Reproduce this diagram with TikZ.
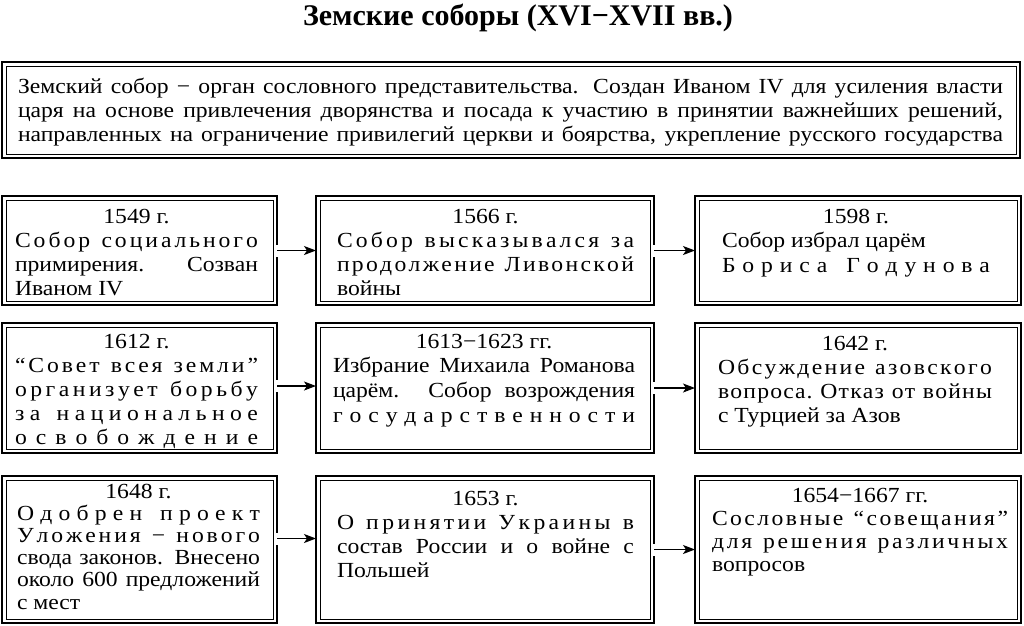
\documentclass[tikz,border=0pt]{standalone}
\usepackage{fontspec}
\setmainfont{Liberation Serif}[FakeStretch=1.1]
\newfontfamily\titlefont{Liberation Serif}
\usetikzlibrary{arrows.meta}
\hbadness=10000 \hfuzz=200pt \vbadness=10000 \vfuzz=200pt
\makeatletter
\def\sline#1{\sl@line#1 \@nil}
\def\sl@line#1 #2\@nil{\sl@word#1\relax\ifx\relax#2\relax\else\hskip 0.25em plus 2fil\relax\sl@line#2\@nil\fi}
\def\sl@word#1{\ifx#1\relax\else#1\expandafter\sl@wordB\fi}
\def\sl@wordB#1{\ifx#1\relax\else\hskip0pt plus1fil\relax#1\expandafter\sl@wordB\fi}
\makeatother
\newcommand\lnS[1]{\hbox to\hsize{\sline{#1}}}
\newcommand\lnJ[1]{\hbox to\hsize{#1}}
\newcommand\lnN[1]{\hbox{#1}}
\newcommand\lnC[1]{\hbox to\hsize{\hss#1\hss}}
\newcommand\tb[3]{\vtop{\hsize=#1pt\baselineskip=#2pt\lineskiplimit=-100pt\lineskip=0pt\parindent=0pt #3}}
\tikzset{
  dbox/.style={draw, line width=2.4pt, inner sep=0pt, outer sep=0pt, anchor=north west,
    path picture={\draw[line width=0.9pt] ([shift={(4pt,4pt)}]path picture bounding box.south west) rectangle ([shift={(-4pt,-4pt)}]path picture bounding box.north east);}},
  txt/.style={anchor=base west, inner sep=0pt, outer sep=0pt, font=\fontsize{21.5}{24}\selectfont},
  conn/.style={line width=1.1pt, -{Stealth[length=12pt,width=9pt,inset=3pt]}},
  gapfill/.style={fill=white},
}
\begin{document}
\begin{tikzpicture}[x=1pt,y=-1pt]
\useasboundingbox (0,0) rectangle (1024,625);
\node[font=\titlefont\bfseries\fontsize{30}{32}\selectfont, anchor=base, inner sep=0pt] (title) at (518,25) {Земские соборы (XVI−XVII вв.)};

% boxes
\node[dbox, minimum width=1018pt, minimum height=96pt] (top) at (2,62) {};
\node[dbox, minimum width=275pt, minimum height=109pt] (L1) at (2,196) {};
\node[dbox, minimum width=338pt, minimum height=109pt] (M1) at (316,196) {};
\node[dbox, minimum width=326pt, minimum height=109pt] (R1) at (695,196) {};
\node[dbox, minimum width=275pt, minimum height=130pt] (L2) at (2,323) {};
\node[dbox, minimum width=338pt, minimum height=130pt] (M2) at (316,323) {};
\node[dbox, minimum width=326pt, minimum height=130pt] (R2) at (695,323) {};
\node[dbox, minimum width=275pt, minimum height=147pt] (L3) at (2,476) {};
\node[dbox, minimum width=338pt, minimum height=147pt] (M3) at (316,476) {};
\node[dbox, minimum width=326pt, minimum height=147pt] (R3) at (695,476) {};

% texts
\node[txt] (tTop) at (18,93) {\tb{985}{24}{%
\lnJ{Земский собор − орган сословного представительства. Создан Иваном IV для усиления власти}
\lnJ{царя на основе привлечения дворянства и посада к участию в принятии важнейших решений,}
\lnJ{направленных на ограничение привилегий церкви и боярства, укрепление русского государства}}};

\node[txt] (tL1) at (15,223) {\tb{243}{24}{%
\lnC{1549 г.}
\lnS{Собор социального}
\lnJ{примирения. Созван}
\lnN{Иваном IV}}};
\node[txt] (tM1) at (337,223) {\tb{297}{24.3}{%
\lnC{1566 г.}
\lnS{Собор высказывался за}
\lnS{продолжение Ливонской}
\lnN{войны}}};
\node[txt] (tR1) at (722,223) {\tb{268}{24.5}{%
\lnC{1598 г.}
\lnN{Собор избрал царём}
\lnS{Бориса Годунова}}};

\node[txt] (tL2) at (15,348) {\tb{243}{24}{%
\lnC{1612 г.}
\lnS{“Совет всея земли”}
\lnS{организует борьбу}
\lnS{за национальное}
\lnS{освобождение}}};
\node[txt] (tM2) at (333,348) {\tb{302}{24.7}{%
\lnC{1613−1623 гг.}
\lnJ{Избрание Михаила Романова}
\lnJ{царём. Собор возрождения}
\lnS{государственности}}};
\node[txt] (tR2) at (718,350) {\tb{274}{24}{%
\lnC{1642 г.}
\lnS{Обсуждение азовского}
\lnS{вопроса. Отказ от войны}
\lnN{с Турцией за Азов}}};

\node[txt] (tL3) at (17,498) {\tb{243}{22.2}{%
\lnC{1648 г.}
\lnS{Одобрен проект}
\lnS{Уложения − нового}
\lnJ{свода законов. Внесено}
\lnJ{около 600 предложений}
\lnN{с мест}}};
\node[txt] (tM3) at (337,505) {\tb{297}{24}{%
\lnC{1653 г.}
\lnS{О принятии Украины в}
\lnJ{состав России и о войне с}
\lnN{Польшей}}};
\node[txt] (tR3) at (712,502) {\tb{296}{23}{%
\lnC{1654−1667 гг.}
\lnS{Сословные “совещания”}
\lnS{для решения различных}
\lnN{вопросов}}};

% gaps in outer borders where connectors leave
\foreach \n/\dy in {L1/0,M1/0,L2/2,M2/0,L3/11,M3/0}{
  \fill[gapfill] ([shift={(-2pt,\dy pt-6pt)}]\n.east) rectangle ([shift={(2pt,\dy pt+6pt)}]\n.east);
}
% connectors
\draw[conn] (L1.east) -- (M1.west);
\draw[conn] (M1.east) -- (R1.west);
\draw[conn] ([yshift=2pt]L2.east) -- ([yshift=2pt]M2.west);
\draw[conn] (M2.east) -- (R2.west);
\draw[conn] ([yshift=11pt]L3.east) -- ([yshift=11pt]M3.west);
\draw[conn] (M3.east) -- (R3.west);
\end{tikzpicture}
\end{document}
